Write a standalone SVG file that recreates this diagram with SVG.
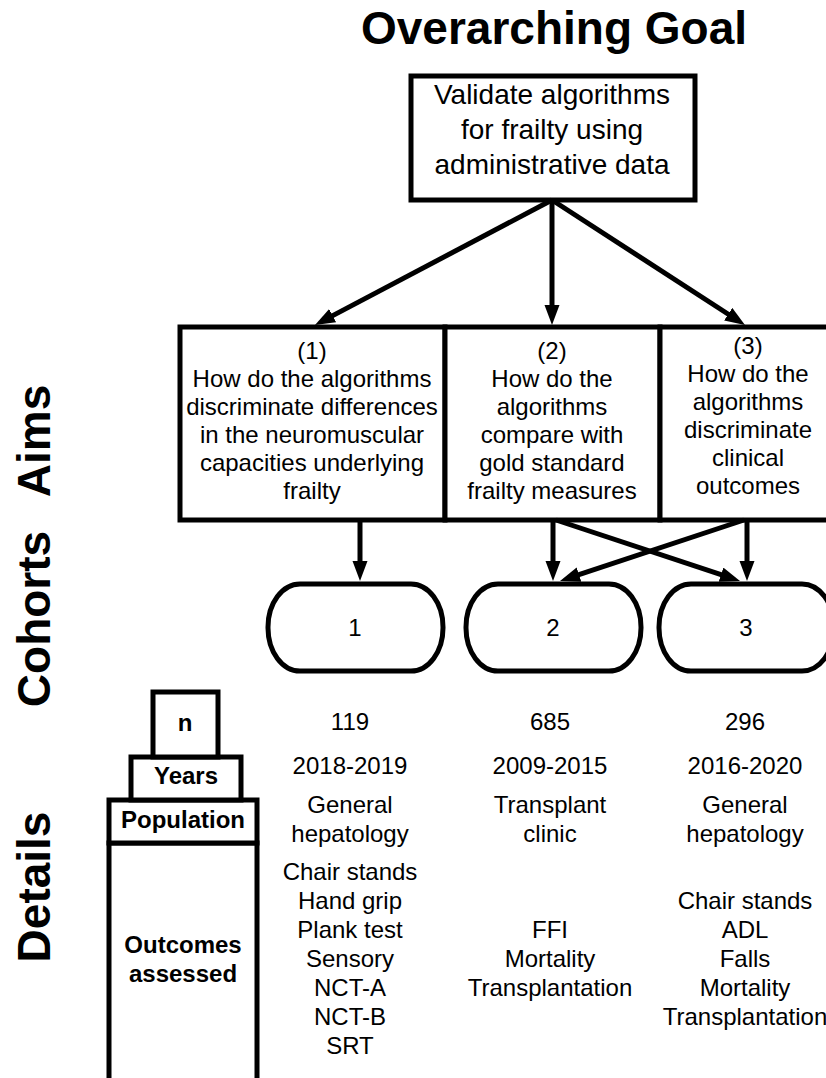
<svg xmlns="http://www.w3.org/2000/svg" width="826" height="1078" viewBox="0 0 826 1078">
<style>
text{font-family:"Liberation Sans",Arial,sans-serif;fill:#000;text-anchor:middle}
.t{font-size:24px}
.g{font-size:28px}
.b{font-size:24px;font-weight:bold}
.h{font-size:46px;font-weight:bold}
.title{font-size:46px;font-weight:bold}
.box{fill:#fff;stroke:#000;stroke-width:5}
.c{fill:none;stroke:#000;stroke-width:5}
</style>
<defs>
<marker id="ah" markerUnits="userSpaceOnUse" markerWidth="22" markerHeight="16" refX="8" refY="7.5" orient="auto">
<path d="M0,0 L20,7.5 L0,15 z" fill="#000"/>
</marker>
</defs>
<rect width="826" height="1078" fill="#fff"/>
<text class="title" x="554" y="44">Overarching Goal</text>
<text class="h" transform="translate(50,441) rotate(-90)">Aims</text>
<text class="h" transform="translate(50,619) rotate(-90)">Cohorts</text>
<text class="h" transform="translate(50,887) rotate(-90)">Details</text>

<g id="goal">
<rect class="box" x="411" y="76" width="284" height="124"/>
<text class="g" x="552" y="104">Validate algorithms</text>
<text class="g" x="552" y="139">for frailty using</text>
<text class="g" x="552" y="174">administrative data</text>
</g>

<g id="aim1">
<rect class="box" x="180" y="327" width="265" height="193"/>
<text class="t" x="312" y="359">(1)</text>
<text class="t" x="312" y="387">How do the algorithms</text>
<text class="t" x="312" y="415">discriminate differences</text>
<text class="t" x="312" y="443">in the neuromuscular</text>
<text class="t" x="312" y="471">capacities underlying</text>
<text class="t" x="312" y="499">frailty</text>
</g>
<g id="aim2">
<rect class="box" x="445" y="327" width="215" height="193"/>
<text class="t" x="552" y="359">(2)</text>
<text class="t" x="552" y="387">How do the</text>
<text class="t" x="552" y="415">algorithms</text>
<text class="t" x="552" y="443">compare with</text>
<text class="t" x="552" y="471">gold standard</text>
<text class="t" x="552" y="499">frailty measures</text>
</g>
<g id="aim3">
<rect class="box" x="660" y="327" width="175" height="193"/>
<text class="t" x="748" y="354">(3)</text>
<text class="t" x="748" y="382">How do the</text>
<text class="t" x="748" y="410">algorithms</text>
<text class="t" x="748" y="438">discriminate</text>
<text class="t" x="748" y="466">clinical</text>
<text class="t" x="748" y="494">outcomes</text>
</g>

<g id="cohort1">
<rect class="box" x="268" y="584" width="175" height="87" rx="32" ry="43"/>
<text class="t" x="355" y="636">1</text>
</g>
<g id="cohort2">
<rect class="box" x="466" y="584" width="175" height="87" rx="32" ry="43"/>
<text class="t" x="553" y="636">2</text>
</g>
<g id="cohort3">
<rect class="box" x="659" y="584" width="175" height="87" rx="32" ry="43"/>
<text class="t" x="746" y="636">3</text>
</g>

<g id="connectors">
<line class="c" x1="552" y1="200" x2="325.6" y2="319.4" marker-end="url(#ah)"/>
<line class="c" x1="552" y1="200" x2="552" y2="313" marker-end="url(#ah)"/>
<line class="c" x1="552" y1="200" x2="734.9" y2="318.5" marker-end="url(#ah)"/>
<line class="c" x1="360" y1="520" x2="360" y2="569" marker-end="url(#ah)"/>
<line class="c" x1="553" y1="520" x2="553" y2="569" marker-end="url(#ah)"/>
<line class="c" x1="747" y1="520" x2="747" y2="569" marker-end="url(#ah)"/>
<line class="c" x1="556" y1="520" x2="728.6" y2="577.2" marker-end="url(#ah)"/>
<line class="c" x1="744" y1="520" x2="571.4" y2="577.2" marker-end="url(#ah)"/>
</g>

<g id="details-labels">
<rect class="box" x="109" y="843" width="148" height="245"/>
<rect class="box" x="109" y="800" width="148" height="43"/>
<rect class="box" x="131" y="757" width="110" height="43"/>
<rect class="box" x="153" y="692" width="65" height="65"/>
<text class="b" x="185" y="731">n</text>
<text class="b" x="186" y="784">Years</text>
<text class="b" x="183" y="828">Population</text>
<text class="b" x="183" y="953">Outcomes</text>
<text class="b" x="183" y="982">assessed</text>
</g>

<g id="details-col1">
<text class="t" x="350" y="730">119</text>
<text class="t" x="350" y="774">2018-2019</text>
<text class="t" x="350" y="813">General</text>
<text class="t" x="350" y="842">hepatology</text>
<text class="t" x="350" y="880">Chair stands</text>
<text class="t" x="350" y="909">Hand grip</text>
<text class="t" x="350" y="938">Plank test</text>
<text class="t" x="350" y="967">Sensory</text>
<text class="t" x="350" y="996">NCT-A</text>
<text class="t" x="350" y="1025">NCT-B</text>
<text class="t" x="350" y="1054">SRT</text>
</g>
<g id="details-col2">
<text class="t" x="550" y="730">685</text>
<text class="t" x="550" y="774">2009-2015</text>
<text class="t" x="550" y="813">Transplant</text>
<text class="t" x="550" y="842">clinic</text>
<text class="t" x="550" y="938">FFI</text>
<text class="t" x="550" y="967">Mortality</text>
<text class="t" x="550" y="996">Transplantation</text>
</g>
<g id="details-col3">
<text class="t" x="745" y="730">296</text>
<text class="t" x="745" y="774">2016-2020</text>
<text class="t" x="745" y="813">General</text>
<text class="t" x="745" y="842">hepatology</text>
<text class="t" x="745" y="909">Chair stands</text>
<text class="t" x="745" y="938">ADL</text>
<text class="t" x="745" y="967">Falls</text>
<text class="t" x="745" y="996">Mortality</text>
<text class="t" x="745" y="1025">Transplantation</text>
</g>
</svg>
